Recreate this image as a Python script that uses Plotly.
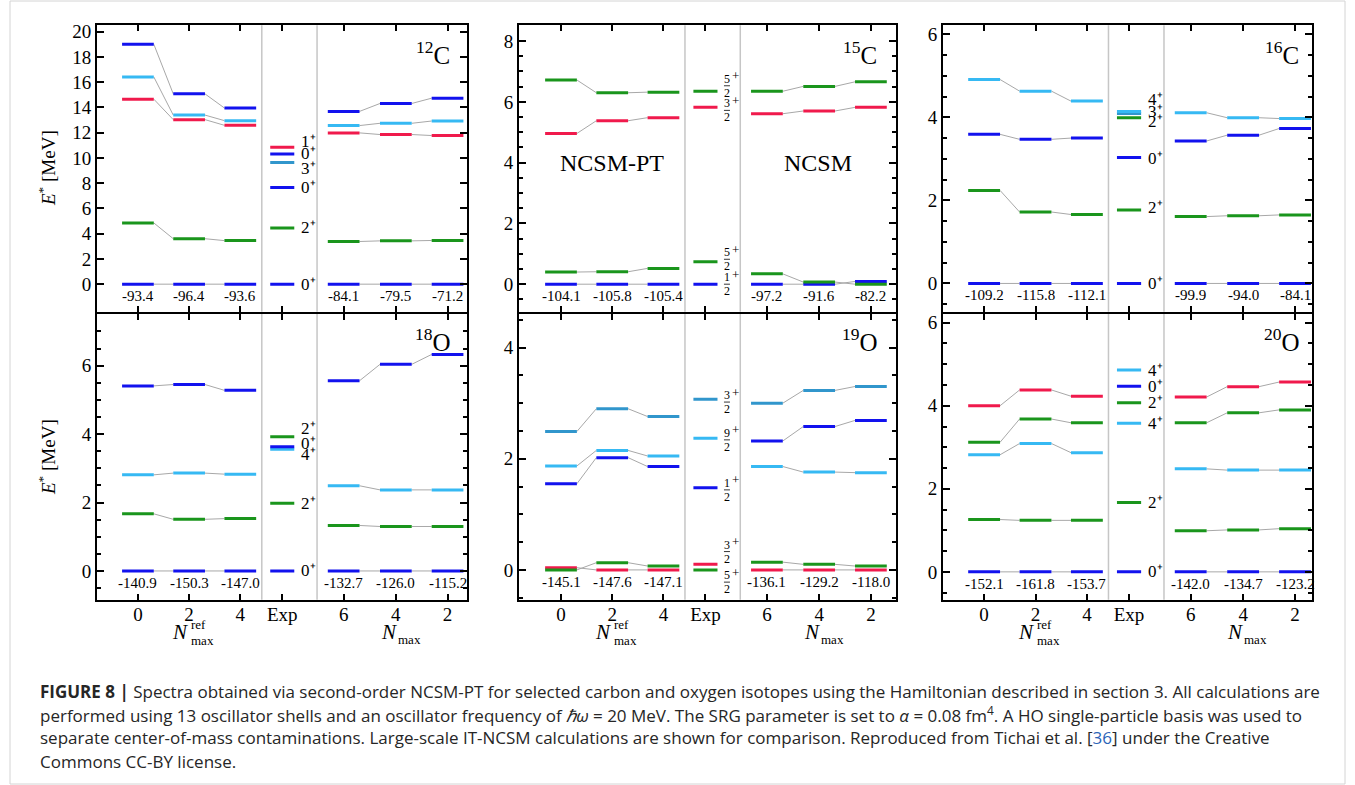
import plotly.graph_objects as go

# ======================= DATA =======================
# Excitation energies E* [MeV]; three NCSM-PT points (Nmax_ref = 0, 2, 4)
# and three NCSM points (Nmax = 6, 4, 2) per state.

# ---- 12C ----
c12_ref = [[0.0, 0.0, 0.0], [4.85, 3.60, 3.45], [14.65, 13.03, 12.58],
           [16.41, 13.39, 12.95], [19.00, 15.07, 13.95]]
c12_ncsm = [[0.0, 0.0, 0.0], [3.38, 3.43, 3.46], [11.98, 11.85, 11.77],
            [12.56, 12.74, 12.92], [13.68, 14.31, 14.73]]
c12_gs_ref = ["-93.4", "-96.4", "-93.6"]
c12_gs_ncsm = ["-84.1", "-79.5", "-71.2"]
c12_exp = [0.0, 4.44, 7.65, 9.64, 10.30, 10.84]
c12_exp_labels = ["0+", "2+", "0+", "3+", "0+", "1+"]

# ---- 15C ----
c15_ref = [[0.0, 0.0, 0.0], [0.40, 0.41, 0.52], [4.96, 5.38, 5.48], [6.72, 6.30, 6.32]]
c15_ncsm = [[0.0, 0.0, 0.09], [0.34, 0.07, 0.0], [5.61, 5.70, 5.82], [6.35, 6.51, 6.66]]
c15_gs_ref = ["-104.1", "-105.8", "-105.4"]
c15_gs_ncsm = ["-97.2", "-91.6", "-82.2"]
c15_exp = [0.0, 0.74, 5.82, 6.35]
c15_exp_labels = ["1/2+", "5/2+", "3/2+", "5/2+"]

# ---- 16C ----
c16_ref = [[0.0, 0.0, 0.0], [2.24, 1.72, 1.66], [3.59, 3.47, 3.50], [4.91, 4.63, 4.39]]
c16_ncsm = [[0.0, 0.0, 0.0], [1.61, 1.63, 1.65], [3.43, 3.57, 3.73], [4.11, 3.99, 3.97]]
c16_gs_ref = ["-109.2", "-115.8", "-112.1"]
c16_gs_ncsm = ["-99.9", "-94.0", "-84.1"]
c16_exp = [0.0, 1.77, 3.03, 3.99, 4.09, 4.14]
c16_exp_labels = ["0+", "2+", "0+", "2+", "3+", "4+"]

# ---- 18O ----
o18_ref = [[0.0, 0.0, 0.0], [1.67, 1.51, 1.53], [2.81, 2.86, 2.83], [5.41, 5.45, 5.28]]
o18_ncsm = [[0.0, 0.0, 0.0], [1.33, 1.30, 1.30], [2.49, 2.37, 2.37], [5.56, 6.04, 6.33]]
o18_gs_ref = ["-140.9", "-150.3", "-147.0"]
o18_gs_ncsm = ["-132.7", "-126.0", "-115.2"]
o18_exp = [0.0, 1.98, 3.56, 3.63, 3.92]
o18_exp_labels = ["0+", "2+", "4+", "0+", "2+"]

# ---- 19O ----
o19_ref = [[0.04, 0.0, 0.0], [0.0, 0.13, 0.07], [1.55, 2.02, 1.86],
           [1.87, 2.15, 2.05], [2.49, 2.90, 2.76]]
o19_ncsm = [[0.0, 0.0, 0.0], [0.14, 0.10, 0.07], [2.32, 2.58, 2.69],
            [1.86, 1.76, 1.75], [3.00, 3.23, 3.30]]
o19_gs_ref = ["-145.1", "-147.6", "-147.1"]
o19_gs_ncsm = ["-136.1", "-129.2", "-118.0"]
o19_exp = [0.0, 0.10, 1.48, 2.37, 3.07]
o19_exp_labels = ["5/2+", "3/2+", "1/2+", "9/2+", "3/2+"]

# ---- 20O ----
o20_ref = [[0.0, 0.0, 0.0], [1.26, 1.24, 1.24], [2.82, 3.09, 2.87],
           [3.12, 3.68, 3.59], [4.00, 4.38, 4.23]]
o20_ncsm = [[0.0, 0.0, 0.0], [0.99, 1.01, 1.04], [2.48, 2.45, 2.45],
            [3.59, 3.83, 3.90], [4.21, 4.46, 4.57]]
o20_gs_ref = ["-152.1", "-161.8", "-153.7"]
o20_gs_ncsm = ["-142.0", "-134.7", "-123.2"]
o20_exp = [0.0, 1.67, 3.58, 4.07, 4.47, 4.86]
o20_exp_labels = ["0+", "2+", "4+", "2+", "0+", "4+"]

x_tick_text = ["0", "2", "4", "Exp", "6", "4", "2"]

# ======================= STYLE / LAYOUT =======================
BLUE = "#1212ee"
CYAN = "#36b9f3"
STEEL = "#3196cc"
RED = "#f01a4c"
GREEN = "#1a951c"
GRAY = "#a8a8a8"
SEP = "#c6c6c6"
SERIF = "Liberation Serif"

REF_X = [0.0, 1.0, 2.0]
EXP_X = 2.82
NCSM_X = [4.02, 5.04, 6.05]
SEP_X = [2.42, 3.50]
HW = 0.31      # half width of calculated level bars
HWE = 0.235    # half width of experimental level bars

W, H = 1355, 785


def px(x):
    return x / W


def py(y):
    return 1 - y / H


cols = [(97, 467, -0.80, 6.43), (519, 896, -0.82, 6.54), (943, 1312, -0.80, 6.38)]
rows = [(25.3, 311.7), (313.7, 599.7)]

panels = [
    dict(name="12", el="C", ref=c12_ref, ncsm=c12_ncsm, gsr=c12_gs_ref, gsn=c12_gs_ncsm,
         exp=c12_exp, lab=c12_exp_labels, col=0, row=0, yr=[-2.18, 20.5], minor=None, ymax=20,
         colors=[BLUE, GREEN, RED, CYAN, BLUE],
         ecolors=[BLUE, GREEN, BLUE, STEEL, BLUE, RED],
         laby=[0.0, 4.46, 7.65, 9.17, 10.35, 11.27]),
    dict(name="15", el="C", ref=c15_ref, ncsm=c15_ncsm, gsr=c15_gs_ref, gsn=c15_gs_ncsm,
         exp=c15_exp, lab=c15_exp_labels, col=1, row=0, yr=[-0.905, 8.52], minor=0.5, ymax=8,
         colors=[BLUE, GREEN, RED, GREEN],
         ecolors=[BLUE, GREEN, RED, GREEN],
         laby=[0.0, 0.82, 5.72, 6.53]),
    dict(name="16", el="C", ref=c16_ref, ncsm=c16_ncsm, gsr=c16_gs_ref, gsn=c16_gs_ncsm,
         exp=c16_exp, lab=c16_exp_labels, col=2, row=0, yr=[-0.68, 6.215], minor=0.5, ymax=6,
         colors=[BLUE, GREEN, BLUE, CYAN],
         ecolors=[BLUE, GREEN, BLUE, GREEN, STEEL, CYAN],
         laby=[0.0, 1.83, 3.02, 3.90, 4.13, 4.42]),
    dict(name="18", el="O", ref=o18_ref, ncsm=o18_ncsm, gsr=o18_gs_ref, gsn=o18_gs_ncsm,
         exp=o18_exp, lab=o18_exp_labels, col=0, row=1, yr=[-0.84, 7.52], minor=0.5, ymax=6,
         colors=[BLUE, GREEN, CYAN, BLUE],
         ecolors=[BLUE, GREEN, CYAN, BLUE, GREEN],
         laby=[0.0, 1.98, 3.39, 3.74, 4.15]),
    dict(name="19", el="O", ref=o19_ref, ncsm=o19_ncsm, gsr=o19_gs_ref, gsn=o19_gs_ncsm,
         exp=o19_exp, lab=o19_exp_labels, col=1, row=1, yr=[-0.536, 4.61], minor=0.5, ymax=4,
         colors=[RED, GREEN, BLUE, CYAN, STEEL],
         ecolors=[GREEN, RED, BLUE, CYAN, STEEL],
         laby=[-0.22, 0.33, 1.44, 2.34, 3.02]),
    dict(name="20", el="O", ref=o20_ref, ncsm=o20_ncsm, gsr=o20_gs_ref, gsn=o20_gs_ncsm,
         exp=o20_exp, lab=o20_exp_labels, col=2, row=1, yr=[-0.67, 6.216], minor=0.5, ymax=6,
         colors=[BLUE, GREEN, CYAN, GREEN, RED],
         ecolors=[BLUE, GREEN, CYAN, GREEN, BLUE, CYAN],
         laby=[0.0, 1.67, 3.58, 4.07, 4.47, 4.86]),
]

fig = go.Figure()
layout = dict(width=W, height=H, margin=dict(l=0, r=0, t=0, b=0, autoexpand=False),
              paper_bgcolor="white", plot_bgcolor="white", showlegend=False)
annotations = []
shapes = []


def fmt_label(s):
    return s[:-1] + "⁺"


def ptext(x, y, text, size, xanchor="center", family=SERIF, color="black", angle=0):
    return dict(x=px(x), y=py(y), xref="paper", yref="paper", text=text, showarrow=False,
                xanchor=xanchor, yanchor="middle", textangle=angle,
                font=dict(family=family, size=size, color=color))


for i, p in enumerate(panels):
    n = "" if i == 0 else str(i + 1)
    xr, yr_ = "x" + n, "y" + n
    c = cols[p["col"]]
    r = rows[p["row"]]
    bottom = p["row"] == 1

    layout["xaxis" + n] = dict(
        domain=[px(c[0]), px(c[1])], range=[c[2], c[3]], anchor=yr_,
        tickmode="array", tickvals=REF_X + [EXP_X] + NCSM_X, ticktext=x_tick_text,
        showticklabels=bottom, ticks="inside", ticklen=6, tickwidth=2, tickcolor="black",
        showline=True, linecolor="black", linewidth=2, mirror="ticks",
        showgrid=False, zeroline=False, fixedrange=True, ticklabelstandoff=-4,
        tickfont=dict(family=SERIF, size=19, color="black"))
    ydict = dict(
        domain=[py(r[1]), py(r[0])], range=p["yr"], anchor=xr,
        tickmode="array", tickvals=list(range(0, p["ymax"] + 1, 2)),
        ticks="inside", ticklen=7, tickwidth=2, tickcolor="black",
        showline=True, linecolor="black", linewidth=2, mirror="ticks",
        showgrid=False, zeroline=False, fixedrange=True,
        tickfont=dict(family=SERIF, size=19, color="black"))
    if p["minor"]:
        ydict["minor"] = dict(tickmode="linear", tick0=0, dtick=p["minor"], ticks="inside",
                              ticklen=4, tickwidth=1.5, tickcolor="black", showgrid=False)
    layout["yaxis" + n] = ydict

    # separators
    for sx in SEP_X:
        shapes.append(dict(type="line", xref=xr, yref=yr_ + " domain", x0=sx, x1=sx,
                           y0=0, y1=1, line=dict(color=SEP, width=1.5), layer="below"))

    # connecting lines
    gx, gy = [], []
    for vals, xs in ((p["ref"], REF_X), (p["ncsm"], NCSM_X)):
        for st in vals:
            for k in range(2):
                gx += [xs[k] + HW, xs[k + 1] - HW, None]
                gy += [st[k], st[k + 1], None]
    fig.add_trace(go.Scatter(x=gx, y=gy, xaxis=xr, yaxis=yr_, mode="lines",
                             line=dict(color=GRAY, width=1), hoverinfo="skip"))

    # level bars
    for si, col in enumerate(p["colors"]):
        bx, by = [], []
        for vals, xs in ((p["ref"], REF_X), (p["ncsm"], NCSM_X)):
            for k in range(3):
                bx += [xs[k] - HW, xs[k] + HW, None]
                by += [vals[si][k], vals[si][k], None]
        fig.add_trace(go.Scatter(x=bx, y=by, xaxis=xr, yaxis=yr_, mode="lines",
                                 line=dict(color=col, width=3), hoverinfo="skip"))

    # experimental levels
    for ei, e in enumerate(p["exp"]):
        fig.add_trace(go.Scatter(x=[EXP_X - HWE, EXP_X + HWE], y=[e, e], xaxis=xr, yaxis=yr_,
                                 mode="lines", line=dict(color=p["ecolors"][ei], width=3),
                                 hoverinfo="skip"))
        lab = p["lab"][ei]
        ly = p["laby"][ei]
        if "/" in lab:
            num, den = lab[:-1].split("/")
            fx = 3.24
            annotations.append(dict(x=fx, y=ly, xref=xr, yref=yr_, text=num, showarrow=False,
                                    yshift=7, font=dict(family=SERIF, size=12, color="black")))
            annotations.append(dict(x=fx, y=ly, xref=xr, yref=yr_, text=den, showarrow=False,
                                    yshift=-7, font=dict(family=SERIF, size=12, color="black")))
            annotations.append(dict(x=fx, y=ly, xref=xr, yref=yr_, text="+", showarrow=False,
                                    xshift=9, yshift=10, font=dict(family=SERIF, size=13, color="black")))
            shapes.append(dict(type="line", xref=xr, yref=yr_, xsizemode="pixel",
                               ysizemode="pixel", xanchor=fx, yanchor=ly,
                               x0=-3, x1=3, y0=0, y1=0, line=dict(color="black", width=0.8)))
        else:
            annotations.append(dict(x=EXP_X + HWE + 0.09, y=ly, xref=xr, yref=yr_,
                                    text=fmt_label(lab), showarrow=False, xanchor="left",
                                    font=dict(family=SERIF, size=17, color="black")))

    # ground-state energies
    for xs, labs in ((REF_X, p["gsr"]), (NCSM_X, p["gsn"])):
        for k in range(3):
            annotations.append(dict(x=xs[k], y=0, xref=xr, yref=yr_, text=labs[k],
                                    showarrow=False, yshift=-12,
                                    font=dict(family=SERIF, size=15, color="black")))

# nucleus labels
nuc_pos = [(433, 53), (860, 53), (1282, 53), (433, 340), (860, 340), (1282, 340)]
for p, (nx, ny) in zip(panels, nuc_pos):
    annotations.append(ptext(nx, ny, "<sup>" + p["name"] + "</sup>" + p["el"], 25))

# method labels
annotations.append(ptext(612, 163, "NCSM-PT", 24))
annotations.append(ptext(818, 163, "NCSM", 24))

# y-axis titles
for yc in (168, 457):
    annotations.append(ptext(47, yc, "<i>E</i><sup>*</sup> [MeV]", 19, angle=-90))

# x-axis titles
for off in (0, 423, 846):
    annotations.append(ptext(179.5 + off, 632, "<i>N</i>", 21))
    annotations.append(ptext(189 + off, 624, "ref", 13, xanchor="left"))
    annotations.append(ptext(189 + off, 640, "max", 13, xanchor="left"))
    annotations.append(ptext(389 + off, 632, "<i>N</i>", 21))
    annotations.append(ptext(396 + off, 639, "max", 13, xanchor="left"))

# caption
cap_lines = [
    "<b>FIGURE 8 |</b> Spectra obtained via second-order NCSM-PT for selected carbon and oxygen "
    "isotopes using the Hamiltonian described in section 3. All calculations are",
    "performed using 13 oscillator shells and an oscillator frequency of <i>ℏω</i> = 20 MeV. "
    "The SRG parameter is set to <i>α</i> = 0.08 fm<sup>4</sup>. A HO single-particle basis was used to",
    "separate center-of-mass contaminations. Large-scale IT-NCSM calculations are shown for "
    "comparison. Reproduced from Tichai et al. [<span style='color:#2a64b8'>36</span>] under the Creative",
    "Commons CC-BY license.",
]
for t, yy in zip(cap_lines, (691, 714, 737, 761)):
    annotations.append(ptext(38, yy, t, 17, xanchor="left", family="Open Sans", color="#262626"))

shapes.append(dict(type="rect", xref="paper", yref="paper", x0=px(10), x1=px(1345),
                   y0=py(784), y1=py(1), line=dict(color="#d4d4d4", width=1), layer="below"))

layout["annotations"] = annotations
layout["shapes"] = shapes
fig.update_layout(**layout)
fig.write_html("out.html")
